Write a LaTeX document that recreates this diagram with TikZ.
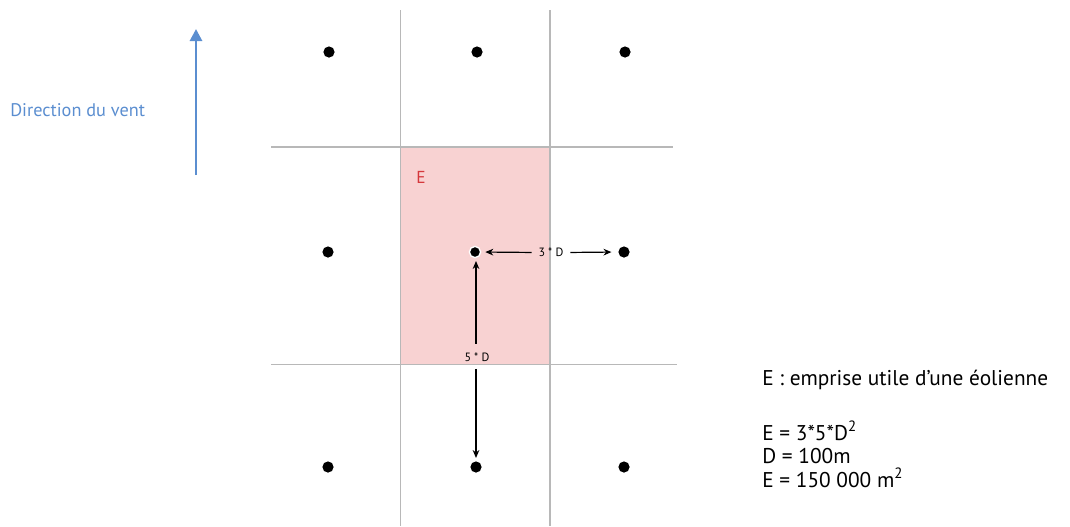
\documentclass[tikz,border=0pt]{standalone}
\usepackage{fontspec}
\setmainfont{PT Sans}
\usetikzlibrary{arrows.meta}
\definecolor{gridgray}{HTML}{B8B8B8}
\definecolor{pinkfill}{HTML}{F8D2D2}
\definecolor{ered}{HTML}{D5383C}
\definecolor{windblue}{HTML}{5B8ED0}
\tikzset{
  gridline/.style={draw=gridgray, line width=1.1pt},
  turbine/.style={circle, fill=black, inner sep=0pt, minimum size=8.4pt},
  dimarrow/.style={-{Stealth[length=6pt,width=5pt]}, line width=0.9pt, black},
  dimlabel/.style={font=\fontsize{9}{10}\selectfont, inner sep=1pt},
  infotext/.style={anchor=base west, inner sep=0pt, font=\fontsize{16}{18}\selectfont},
}
\begin{document}
\begin{tikzpicture}[x=0.75pt,y=-0.75pt]
\useasboundingbox (0,0) rectangle (1070,526);
% useful area
\fill[pinkfill] (401,147) rectangle (550,364.5);
% grid
\draw[gridline] (400.5,10) -- (400.5,526);
\draw[gridline] (550,10) -- (550,526);
\draw[gridline] (271,147) -- (673,147);
\draw[gridline] (271,364.5) -- (677,364.5);
% turbines
\node[turbine] (d11) at (329,52) {};
\node[turbine] (d12) at (477,52) {};
\node[turbine] (d13) at (625,52) {};
\node[turbine] (d21) at (328,252) {};
\node[turbine, draw=white, line width=1pt] (c) at (475,252) {};
\node[turbine] (d23) at (624,252) {};
\node[turbine] (d31) at (328,467) {};
\node[turbine] (d32) at (476,467) {};
\node[turbine] (d33) at (624,467) {};
% E label
\node[anchor=base west, inner sep=0pt, text=ered, font=\fontsize{13}{15}\selectfont] (elab) at (416,183) {E};
% dimension 3*D
\node[dimlabel] (l3) at (551,252.5) {3 * D};
\draw[dimarrow, shorten <=4pt, shorten >=3pt] (l3.west) -- (c.east);
\draw[dimarrow, shorten <=4pt, shorten >=5pt] (l3.east) -- (d23.west);
% dimension 5*D
\node[dimlabel] (l5) at (477,357.5) {5 * D};
\coordinate (cb) at (476,257);
\coordinate (dt) at (476,462);
\draw[dimarrow, shorten <=6pt, shorten >=3pt] (l5.north -| cb) -- (cb);
\draw[dimarrow, shorten <=4pt, shorten >=3pt] (l5.south -| dt) -- (dt);
% wind direction
\coordinate (w1) at (196,175);
\coordinate (w2) at (196,29);
\draw[windblue, line width=2.1pt, -{Triangle[length=9pt,width=9pt]}] (w1) -- (w2);
\node[anchor=base west, inner sep=0pt, text=windblue, font=\fontsize{13.7}{15}\selectfont] (wtext) at (10,116) {Direction du vent};
% info text
\node[infotext] (t1) at (762,385) {E : emprise utile d’une éolienne};
\node[infotext] (t2) at (762,440) {E = 3*5*D\textsuperscript{2}};
\node[infotext] (t3) at (762,463) {D = 100m};
\node[infotext] (t4) at (762,487) {E = 150 000 m\textsuperscript{2}};
\end{tikzpicture}
\end{document}
